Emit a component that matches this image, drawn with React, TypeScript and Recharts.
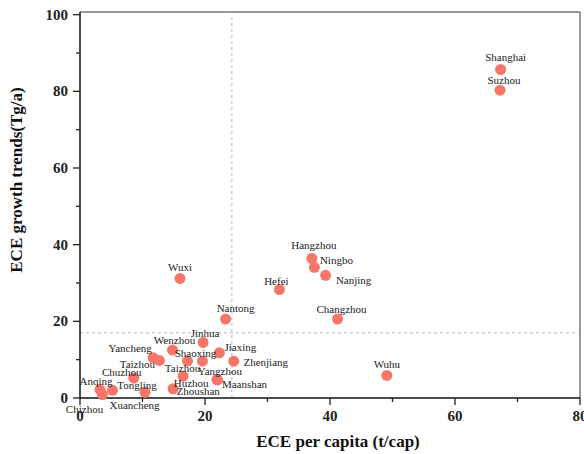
import React from "react";
import {
  ScatterChart,
  Scatter,
  XAxis,
  YAxis,
  ReferenceLine,
} from "recharts";

// city labels and values
const cities = [
  "Shanghai", "Suzhou", "Hangzhou", "Ningbo", "Nanjing", "Hefei", "Wuxi",
  "Nantong", "Changzhou", "Wuhu", "Zhenjiang", "Jiaxing", "Yangzhou", "Maanshan",
  "Jinhua", "Wenzhou", "Yancheng", "Taizhou", "Taizhou", "Shaoxing", "Huzhou",
  "Zhoushan", "Chuzhou", "Tongling", "Xuancheng", "Anqing", "Chizhou",
];
const ecePerCapita = [
  67.3, 67.2, 37.1, 37.5, 39.3, 31.9, 16.0,
  23.3, 41.2, 49.1, 24.6, 22.3, 21.9, 22.0,
  19.7, 14.8, 11.7, 12.7, 17.2, 19.6, 16.5,
  14.9, 8.6, 10.4, 5.2, 3.2, 3.6,
];
const eceGrowth = [
  85.7, 80.3, 36.4, 34.1, 32.0, 28.3, 31.2,
  20.6, 20.6, 5.9, 9.6, 11.8, 4.8, 4.7,
  14.5, 12.5, 10.5, 9.8, 9.6, 9.6, 5.7,
  2.4, 5.2, 1.5, 2.0, 2.2, 0.9,
];

const xTicks = [0, 10, 20, 30, 40, 50, 60, 70, 80];
const yTicks = [0, 10, 20, 30, 40, 50, 60, 70, 80, 90, 100];
const meanX = 24.3;
const meanY = 17;

// label placement relative to each dot (px)
const labelOffsets: [number, number][] = [
  [5, -12], [4, -10], [2, -13], [22, -7], [28, 5], [-3, -9], [0, -11],
  [10, -11], [4, -10], [0, -11], [32, 1], [21, -6], [3, -9], [27, 4],
  [2, -9], [2, -10], [-23, -10], [-22, 4], [-5, 7], [-7, -8], [8, 7],
  [25, 2], [-12, -6], [-8, -7], [22, 15], [-4, -9], [-18, 14],
];

const data = cities.map((name, i) => ({
  name,
  x: ecePerCapita[i],
  y: eceGrowth[i],
  idx: i,
}));

const serif = "'Liberation Serif', 'Times New Roman', serif";
const dotColor = "#f7766a";

const YTick = (props: any) => {
  const { x, y, payload } = props;
  const major = payload.value % 20 === 0;
  return (
    <g>
      <line x1={x + (major ? 5 : 8)} x2={x + 12} y1={y} y2={y} stroke="#222" strokeWidth={1.3} />
      {major && (
        <text x={x} y={y} textAnchor="end" dominantBaseline="central"
          fontFamily={serif} fontWeight="bold" fontSize={15} fill="#222">
          {payload.value}
        </text>
      )}
    </g>
  );
};

const XTick = (props: any) => {
  const { x, y, payload } = props;
  const major = payload.value % 20 === 0;
  return (
    <g>
      <line x1={x} x2={x} y1={y - 12} y2={y - (major ? 5 : 8)} stroke="#222" strokeWidth={1.3} />
      {major && (
        <text x={x} y={y + 11} textAnchor="middle"
          fontFamily={serif} fontWeight="bold" fontSize={15} fill="#222">
          {payload.value}
        </text>
      )}
    </g>
  );
};

const Dot = (props: any) => {
  const { cx, cy } = props;
  return <circle cx={cx} cy={cy} r={5.5} fill={dotColor} />;
};

const CityLabel = (props: any) => {
  const { cx, cy, payload } = props;
  const [dx, dy] = labelOffsets[payload.idx];
  return (
    <text x={cx + dx} y={cy + dy} textAnchor="middle" dominantBaseline="central"
      fontFamily={serif} fontSize={11} fill="#222">
      {payload.name}
    </text>
  );
};

export default function App() {
  return (
    <div style={{ position: "absolute", left: 0, top: 0, background: "#fff" }}>
      <ScatterChart width={584} height={454} margin={{ top: 12, right: 4, bottom: 0, left: 0 }}>
        <XAxis
          type="number"
          dataKey="x"
          domain={[0, 80]}
          ticks={xTicks}
          interval={0}
          tickSize={7}
          tickMargin={5}
          tickLine={false}
          tick={<XTick />}
          height={56}
          axisLine={{ stroke: "#111", strokeWidth: 1.5 }}
          label={{
            content: () => (
              <text x={338} y={447} textAnchor="middle" fontFamily={serif}
                fontWeight="bold" fontSize={17} fill="#111">
                ECE per capita (t/cap)
              </text>
            ),
          }}
        />
        <YAxis
          type="number"
          dataKey="y"
          domain={[0, 100.7]}
          ticks={yTicks}
          interval={0}
          tickSize={7}
          tickMargin={5}
          tickLine={false}
          tick={<YTick />}
          width={80}
          axisLine={{ stroke: "#111", strokeWidth: 1.5 }}
          label={{
            content: () => (
              <text x={22} y={180} textAnchor="middle" fontFamily={serif}
                fontWeight="bold" fontSize={17} fill="#111"
                transform="rotate(-90 22 180)">
                ECE growth trends(Tg/a)
              </text>
            ),
          }}
        />
        <ReferenceLine y={100.7} stroke="#333" strokeWidth={1} />
        <ReferenceLine x={80} stroke="#333" strokeWidth={1} />
        <ReferenceLine x={meanX} stroke="#b5b5b5" strokeDasharray="3 3" />
        <ReferenceLine y={meanY} stroke="#b5b5b5" strokeDasharray="3 3" />
        <Scatter data={data} shape={<Dot />} isAnimationActive={false} />
        <Scatter data={data} shape={<CityLabel />} isAnimationActive={false} />
      </ScatterChart>
    </div>
  );
}
